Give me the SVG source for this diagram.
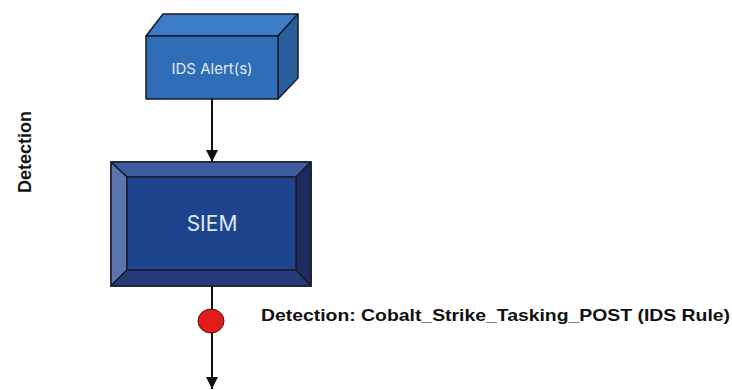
<svg xmlns="http://www.w3.org/2000/svg" width="732" height="390" viewBox="0 0 732 390">
<defs>
<style>
.edge{stroke:#111;stroke-width:2;fill:none}
.lbl{font-family:"Liberation Sans",Arial,sans-serif;font-weight:bold;fill:#111}
.ntxt{font-family:"Inter","Liberation Sans",Arial,sans-serif;fill:#dfe7f4}
.outline{stroke:#1a1a2a;stroke-width:1.5;stroke-linejoin:round}
</style>
<marker id="arr" markerWidth="12" markerHeight="14" refX="12" refY="6" orient="auto" markerUnits="userSpaceOnUse" viewBox="0 0 12 12">
<path d="M0,0 L12,6 L0,12 z" fill="#111"/>
</marker>
</defs>
<rect width="732" height="390" fill="#fff"/>
<text class="lbl" font-size="18" transform="translate(31,152) rotate(-90)" text-anchor="middle">Detection</text>
<g id="edges">
<line class="edge" x1="212" y1="99" x2="212" y2="162" marker-end="url(#arr)"/>
<line class="edge" x1="212" y1="286" x2="212" y2="389" marker-end="url(#arr)"/>
</g>
<g id="ids">
<polygon class="outline" points="146,36 163,14 298,14 278,36" fill="#3b7cc6"/>
<polygon class="outline" points="278,36 298,14 298,78 278,99" fill="#2a5f9e"/>
<rect class="outline" x="146" y="36" width="132" height="63" fill="#2f6db6"/>
<text class="ntxt" x="212" y="74" font-size="15" text-anchor="middle">IDS Alert(s)</text>
</g>
<g id="siem">
<rect class="outline" x="111" y="162" width="200" height="124" fill="#2a4584"/>
<polygon points="111,162 311,162 296,177 127,177" fill="#3e5c9c" class="outline"/>
<polygon points="111,162 127,177 127,270 111,286" fill="#5a74ad" class="outline"/>
<polygon points="311,162 296,177 296,270 311,286" fill="#1b2b5c" class="outline"/>
<polygon points="111,286 127,270 296,270 311,286" fill="#263a78" class="outline"/>
<rect class="outline" x="127" y="177" width="169" height="93" fill="#1f448e"/>
<text class="ntxt" x="212" y="231" font-size="21" text-anchor="middle">SIEM</text>
</g>
<g id="detect">
<ellipse cx="211" cy="321" rx="13" ry="12" fill="#e21b1b" stroke="#5a1010" stroke-width="1"/>
<text class="lbl" x="261" y="321" font-size="17" textLength="469" lengthAdjust="spacingAndGlyphs">Detection: Cobalt_Strike_Tasking_POST (IDS Rule)</text>
</g>
</svg>
